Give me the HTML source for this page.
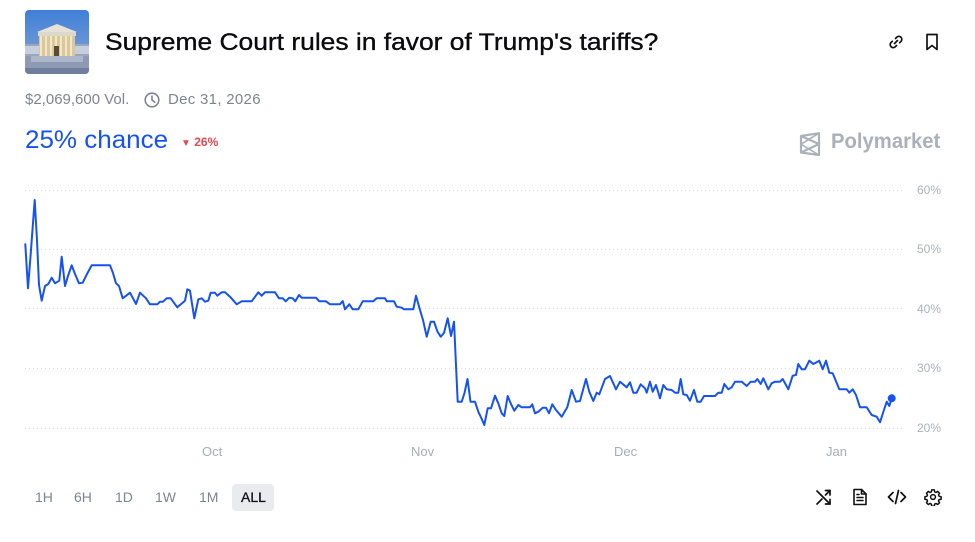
<!DOCTYPE html>
<html><head><meta charset="utf-8"><style>
html,body{margin:0;padding:0;background:#fff;}
body{width:975px;height:542px;position:relative;overflow:hidden;font-family:"Liberation Sans",Arial,sans-serif;}
.abs{position:absolute;white-space:nowrap;}
.title{left:105px;top:29px;font-size:24px;color:#0b0b0f;font-weight:normal;-webkit-text-stroke:0.35px #0b0b0f;transform:scaleX(1.10);transform-origin:0 0;}
.meta{top:91px;font-size:15px;color:#7c8591;}
.chance{left:25px;top:126px;font-size:25px;color:#1652f0;transform:scaleX(1.04);transform-origin:0 0;}
.delta{left:181px;top:135px;font-size:12px;color:#e5484d;font-weight:bold;}
.poly{left:831px;top:130px;font-size:21px;color:#aab1bb;font-weight:bold;transform:scaleX(0.965);transform-origin:0 0;}
.ylab{left:917px;font-size:12px;color:#aab1bb;}
.xlab{top:444px;font-size:13px;color:#a5adb8;}
.btn{top:489px;font-size:14px;color:#7c8591;}
.allbg{left:232px;top:484px;width:42px;height:27px;background:#e9ebee;border-radius:4px;}
</style></head><body>

<!-- thumbnail -->
<svg class="abs" style="left:25px;top:10px" width="64" height="64" viewBox="0 0 64 64">
<defs>
<linearGradient id="sky" x1="0" y1="0" x2="0" y2="1"><stop offset="0" stop-color="#3f7fd6"/><stop offset="1" stop-color="#8ba9d6"/></linearGradient>
<clipPath id="rc"><rect width="64" height="64" rx="4"/></clipPath>
</defs>
<g clip-path="url(#rc)">
<rect width="64" height="64" fill="url(#sky)"/>
<rect x="0" y="34" width="64" height="30" fill="#9aa6bd"/>
<rect x="0" y="36" width="64" height="8" fill="#c8cfdc"/>
<polygon points="12,22 32,14 52,22" fill="#e6e2d8"/>
<rect x="13" y="22" width="38" height="4" fill="#ddd8cc"/>
<rect x="14" y="26" width="36" height="20" fill="#d9c79f"/>
<g fill="#f3e7c2"><rect x="15" y="26" width="2" height="20"/><rect x="20" y="26" width="2" height="20"/><rect x="25" y="26" width="2" height="20"/><rect x="30" y="26" width="2" height="20"/><rect x="35" y="26" width="2" height="20"/><rect x="40" y="26" width="2" height="20"/><rect x="45" y="26" width="2" height="20"/></g>
<rect x="29" y="36" width="5" height="10" fill="#5a4a36"/>
<rect x="0" y="46" width="64" height="18" fill="#8e9ab3"/>
<rect x="6" y="46" width="52" height="6" fill="#aeb7c9"/>
<rect x="0" y="58" width="64" height="6" fill="#6f7e9c"/>
</g>
</svg>

<div class="abs title">Supreme Court rules in favor of Trump's tariffs?</div>

<!-- top right icons -->
<svg class="abs" style="left:886px;top:32px" width="20" height="20" viewBox="0 0 20 20" fill="none" stroke="#111" stroke-width="1.7" stroke-linecap="round">
<path d="M8.5 11.5 L11.5 8.5"/>
<path d="M9.5 6.5 L11 5 a3 3 0 0 1 4.2 4.2 L13.7 10.7"/>
<path d="M10.5 13.5 L9 15 a3 3 0 0 1 -4.2 -4.2 L6.3 9.3"/>
</svg>
<svg class="abs" style="left:924px;top:33px" width="16" height="18" viewBox="0 0 16 18" fill="none" stroke="#111" stroke-width="1.7" stroke-linejoin="round">
<path d="M3 1.5 H13 V16.5 L8 12.5 L3 16.5 Z"/>
</svg>

<div class="abs meta" style="left:25px">$2,069,600 Vol.</div>
<svg class="abs" style="left:144px;top:92px" width="16" height="16" viewBox="0 0 16 16" fill="none" stroke="#7c8591" stroke-width="1.6" stroke-linecap="round">
<circle cx="8" cy="8" r="6.8"/><path d="M8 4 V8 L10.8 10.2"/>
</svg>
<div class="abs meta" style="left:168px;letter-spacing:0.3px">Dec 31, 2026</div>

<div class="abs chance">25% chance</div>
<div class="abs delta"><span style="font-size:10px">&#9660;</span> 26%</div>

<!-- polymarket logo -->
<svg class="abs" style="left:799px;top:132px" width="23" height="25" viewBox="0 0 23 25" fill="none" stroke="#aab1bb" stroke-width="2.2" stroke-linejoin="round">
<path d="M2 4 L20 1.2 V23 L2 20.5 Z"/>
<path d="M2 4 L20 12 L2 20.5"/>
<path d="M20 1.2 L2 12.2 L20 23" stroke-width="1.6"/>
</svg>
<div class="abs poly">Polymarket</div>

<!-- chart -->
<svg class="abs" style="left:0;top:0" width="975" height="542" viewBox="0 0 975 542">
<g stroke="#d9dde2" stroke-width="1" stroke-dasharray="1 3">
<line x1="25" y1="190.5" x2="905" y2="190.5"/>
<line x1="25" y1="249.5" x2="905" y2="249.5"/>
<line x1="25" y1="308.5" x2="905" y2="308.5"/>
<line x1="25" y1="368.5" x2="905" y2="368.5"/>
<line x1="25" y1="428.5" x2="905" y2="428.5"/>
</g>
<polyline fill="none" stroke="#1652f0" stroke-width="2" stroke-linejoin="round" stroke-linecap="round" points="
25.3,244.3 28,288.3 31,250 34.7,200 37,240 39,285 41.7,300.7 45,286 48.3,284 51.7,277.7 55,283.3 59.3,280.7 61.7,256.7 65,286 68,276 71.7,265.3 75,274 79,283.3 82.7,282.7 87,274 91.7,265.3 110,265.3 113,273 116,283.3 119,286 122.7,298.3 130,292.7 136,304 140,292.7 146,298.3 150,304.3 157.3,304.3 160,301.7 163,301.7 166.7,298.3 170.7,298.3 177.3,307.3 185,300.7 187.3,289.3 190,290.7 194.3,318.3 198.3,299.3 201.7,298.3 205,301.7 208.3,300.7 210.7,292.7 215,292.7 217.3,295.7 221.7,292.3 225,292.3 230,296.7 236.7,304.3 241.7,301.3 251.7,301.3 258.3,292.3 261.7,295.7 265,292.3 275,292.3 279,298.3 282.7,298.3 285.7,301.3 289.3,297.7 292.7,298.3 295.3,301.3 299,295 301.7,297.7 316,297.7 319.3,301.3 326,301.3 330,304.3 340,304.3 342.7,301 345,309.3 349.3,304.3 352.7,309.3 358.3,309.3 362.7,301.3 373.3,301.3 376.7,298.3 385,298.3 386.7,301.3 394,301.3 396.7,306.7 401.7,307.7 404,309.3 413.3,309.3 416,295.7 420,310 423,320 426.7,336.7 430.7,321.7 434,321.7 437.5,331.7 440.7,336.7 444,333 447.7,318.3 451,336 454,321.7 457.7,401.7 461.7,401.7 464.5,393 467.5,379 470.5,401.7 475,401.7 478.3,411.7 481.3,418 484.3,425 487.7,408.3 491,408.3 495,395.7 498.3,403.3 501.7,413.3 504.3,416 507.7,396 511,404 514.3,410.7 518.3,405 521.7,407.3 530,407.3 532.3,404.3 535,413.3 538.3,411.7 542.7,407.7 546,407.7 549,413.3 552.3,404.3 556,410 561.7,416.7 567.3,407.3 571.7,390 576,401.7 580,401 586,379 589.3,391.7 593.3,401 596.7,392.7 599.3,394.3 605,379 610,376 616,389.3 620,381.7 626.7,387.3 630,382.3 633.3,392.7 636.7,392.7 640.7,384.3 645,388.3 646.7,392.7 650,381.7 652.7,391.7 656,385 660,398.3 663.3,385 666.7,389.3 671.7,390 675,392.7 678.3,392.7 680.7,379 683.3,394.3 686.7,395 690,400.7 694,390 697.3,401.7 700.7,401.7 704,396 715,396 718.3,392.7 721.7,392.7 724.3,384 728.3,389.3 731.7,387.3 735,381.7 741.7,381.7 746.7,386 750.7,381.7 755,381.7 757.3,379 760.7,384 763.3,378.3 768.3,389.3 771.7,383.3 775,381.7 780,381.7 782.7,379 788.3,389.3 792.7,375.7 796,375 798.3,364 801.7,369.3 805,369.3 809.3,360.7 813.3,364 819.3,360.7 822.7,369.3 826,360.7 829.3,372.7 832.7,373.3 839.3,389.3 846.7,389.3 849.3,392.7 852.7,389.3 856,395 860,407.3 866.7,407.3 871.7,415 876.7,416.7 880,422.3 883.3,412 886.7,401.7 889.3,406 891.7,398.3"/>
<circle cx="891.7" cy="398.3" r="4" fill="#1652f0"/>
</svg>

<div class="abs ylab" style="top:183px">60%</div>
<div class="abs ylab" style="top:242px">50%</div>
<div class="abs ylab" style="top:302px">40%</div>
<div class="abs ylab" style="top:361px">30%</div>
<div class="abs ylab" style="top:421px">20%</div>

<div class="abs xlab" style="left:202px">Oct</div>
<div class="abs xlab" style="left:411px">Nov</div>
<div class="abs xlab" style="left:614px">Dec</div>
<div class="abs xlab" style="left:826px">Jan</div>

<!-- range buttons -->
<div class="abs allbg"></div>
<div class="abs btn" style="left:35px">1H</div>
<div class="abs btn" style="left:74px">6H</div>
<div class="abs btn" style="left:115px">1D</div>
<div class="abs btn" style="left:155px">1W</div>
<div class="abs btn" style="left:199px">1M</div>
<div class="abs btn" style="left:241px;color:#111;-webkit-text-stroke:0.3px #111">ALL</div>

<!-- bottom right icons -->
<svg class="abs" style="left:815px;top:488px" width="18" height="18" viewBox="0 0 18 18" fill="none" stroke="#111" stroke-width="1.7" stroke-linecap="round" stroke-linejoin="round">
<path d="M2 3 L15 16"/><path d="M2 16 L7 11"/><path d="M10.5 7 L15 2.5"/>
<path d="M10.5 2.5 H15 V7"/><path d="M15 11.5 V16 H10.5"/>
</svg>
<svg class="abs" style="left:852px;top:488px" width="16" height="18" viewBox="0 0 16 18" fill="none" stroke="#111" stroke-width="1.6" stroke-linejoin="round" stroke-linecap="round">
<path d="M2 1.5 H9.5 L14 6 V16.5 H2 Z"/><path d="M9.5 1.5 V6 H14"/>
<path d="M5 9.5 H11"/><path d="M5 12.5 H11"/><path d="M5 6.5 H7"/>
</svg>
<svg class="abs" style="left:887px;top:488px" width="20" height="18" viewBox="0 0 20 18" fill="none" stroke="#111" stroke-width="1.7" stroke-linecap="round" stroke-linejoin="round">
<path d="M6 4.5 L1.5 9 L6 13.5"/><path d="M14 4.5 L18.5 9 L14 13.5"/><path d="M11.5 2.5 L8.5 15.5"/>
</svg>
<svg class="abs" style="left:924px;top:488px" width="18" height="18" viewBox="0 0 24 24" fill="none" stroke="#111" stroke-width="2" stroke-linejoin="round">
<circle cx="12" cy="12" r="3.2"/>
<path d="M10.3 2.5 h3.4 l0.5 2.6 l1.8 0.9 l2.3 -1.4 l2.4 2.4 l-1.4 2.3 l0.9 1.8 l2.6 0.5 v3.4 l-2.6 0.5 l-0.9 1.8 l1.4 2.3 l-2.4 2.4 l-2.3 -1.4 l-1.8 0.9 l-0.5 2.6 h-3.4 l-0.5 -2.6 l-1.8 -0.9 l-2.3 1.4 l-2.4 -2.4 l1.4 -2.3 l-0.9 -1.8 l-2.6 -0.5 v-3.4 l2.6 -0.5 l0.9 -1.8 l-1.4 -2.3 l2.4 -2.4 l2.3 1.4 l1.8 -0.9 Z"/>
</svg>

</body></html>
